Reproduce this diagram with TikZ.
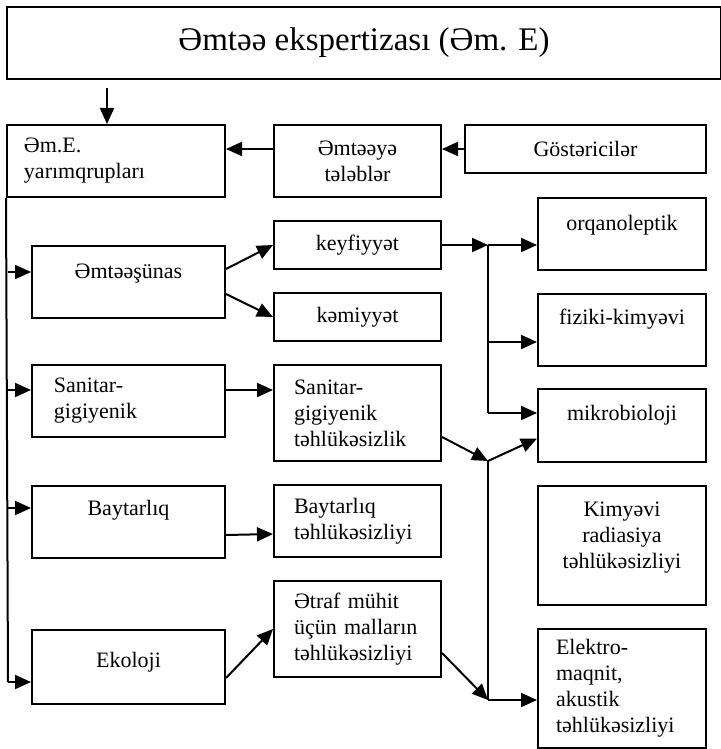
\documentclass[tikz,border=0pt]{standalone}
\usepackage{fontspec}
\setmainfont{Liberation Serif}
\usetikzlibrary{arrows.meta}

\newcommand{\bodyfont}{\fontsize{11}{13}\selectfont}

\begin{document}
\begin{tikzpicture}[x=0.5pt,y=-0.5pt,line width=1pt,
  >={Triangle[length=8pt,width=7pt]},
  box/.style={draw,rectangle,inner sep=0pt,font=\bodyfont},
  topbox/.style={box,anchor=north}]
\useasboundingbox (0,0) rectangle (721,749);

% heading
\path (364,43) node[box,minimum width=357pt,minimum height=36pt,font=\fontsize{16.5}{20}\selectfont] (title) {Əmtəə ekspertizası (Əm. E)};

% first row
\path (116,161) node[box,minimum width=109pt,minimum height=36pt,text width=92pt,inner xsep=8.5pt,align=left] (yarim) {Əm.E.\\yarımqrupları};
\path (357.5,161) node[box,minimum width=83.5pt,minimum height=36pt,align=center] (teleb) {Əmtəəyə\\tələblər};
\path (585.5,149) node[box,minimum width=120.5pt,minimum height=24pt] (gost) {Göstəricilər};

\coordinate (t0) at (107,88);
\path[->] (t0) edge (t0 |- yarim.north);
\path[->] (gost.west) edge (gost.west -| teleb.east);
\path[->] (teleb.west |- gost.west) edge (yarim.east |- gost.west);

% groups on the left
\path (128.5,245) node[topbox,minimum width=96.5pt,text height=16pt,text depth=20pt] (emts) {Əmtəəşünas};
\path (128.5,401) node[box,minimum width=96.5pt,minimum height=36pt,text width=74.5pt,inner xsep=11pt,align=left] (sani) {Sanitar-\\gigiyenik};
\path (128.5,485) node[topbox,minimum width=96.5pt,text height=14.5pt,text depth=21.5pt] (bayt) {Baytarlıq};
\path (128.5,629) node[topbox,minimum width=96.5pt,text height=18.5pt,text depth=18.5pt] (eko) {Ekoloji};

% middle column
\path (357.5,245) node[box,minimum width=83.5pt,minimum height=24pt] (keyf) {keyfiyyət};
\path (357.5,317) node[box,minimum width=83.5pt,minimum height=24pt] (kemi) {kəmiyyət};
\path (357.5,413) node[box,minimum width=83.5pt,minimum height=48pt,text width=63.5pt,inner xsep=10pt,align=left] (sant) {Sanitar-\\gigiyenik\\təhlükəsizlik};
\path (357.5,521) node[box,minimum width=83.5pt,minimum height=36pt,text width=63.5pt,inner xsep=10pt,align=left] (bayt_t) {Baytarlıq\\təhlükəsizliyi};
\path (357.5,629) node[box,minimum width=83.5pt,minimum height=48pt,text width=63.5pt,inner xsep=10pt,align=left] (etraf) {Ətraf mühit\\üçün malların\\təhlükəsizliyi};

% right column
\path (622,197) node[topbox,minimum width=84pt,text height=16pt,text depth=20pt] (orq) {orqanoleptik};
\path (622,293) node[topbox,minimum width=84pt,text height=15pt,text depth=21pt] (fiz) {fiziki-kimyəvi};
\path (622,388) node[topbox,minimum width=84pt,text height=15.5pt,text depth=21pt] (mikro) {mikrobioloji};
\path (622,485) node[topbox,text width=84pt,align=center,text height=15pt,text depth=44.5pt] (kimy) {Kimyəvi\\radiasiya\\təhlükəsizliyi};
\path (622,688.5) node[box,minimum width=84pt,minimum height=59.5pt,text width=66pt,inner xsep=9pt,align=left] (elek) {Elektro-\\maqnit,\\akustik\\təhlükəsizliyi};

% left bus
\coordinate (b1) at (8,272);
\coordinate (b2) at (8,390);
\coordinate (b3) at (8,508);
\coordinate (b4) at (8,682);
\draw (yarim.south west) -- (b4);
\path[->] (b1) edge (b1 -| emts.west);
\path[->] (b2) edge (b2 -| sani.west);
\path[->] (b3) edge (b3 -| bayt.west);
\path[->] (b4) edge (b4 -| eko.west);

% left to middle
\path[->] ([yshift=6.5pt]emts.east) edge (keyf.west);
\path[->] ([yshift=-6pt]emts.east) edge (kemi.west);
\path[->] (b2 -| sani.east) edge (b2 -| sant.west);
\path[->] ([yshift=-6.5pt]bayt.east) edge ([yshift=-6.5pt]bayt_t.west);
\path[->] ([yshift=-5.5pt]eko.east) edge (etraf.west);

% middle to right
\coordinate (j1) at (488,245);
\coordinate (j2) at (488,342);
\coordinate (j3) at (488,413);
\coordinate (j4) at (488,461);
\coordinate (j5) at (488,700);
\path[->] (keyf.east) edge (j1);
\path[->] (j1) edge (j1 -| orq.west);
\draw (j1) -- (j3);
\path[->] (j2) edge (j2 -| fiz.west);
\path[->] (j3) edge (j3 -| mikro.west);
\path[->] ([yshift=-12pt]sant.east) edge (j4);
\path[->] (j4) edge ([yshift=-6.5pt]mikro.west);
\draw (j4) -- (j5);
\path[->] ([yshift=-12pt]etraf.east) edge (j5);
\path[->] (j5) edge (j5 -| elek.west);
\end{tikzpicture}
\end{document}
